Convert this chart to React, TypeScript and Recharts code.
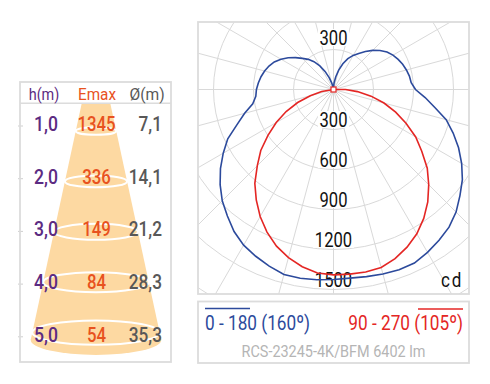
import React from 'react'
import { RadarChart, Radar, PolarGrid, PolarAngleAxis, PolarRadiusAxis } from 'recharts'

// photometric data, gamma measured from nadir, half plane (symmetric)
const GAMMA = [0, 5, 10, 15, 20, 25, 30, 35, 40, 45, 50, 55, 60, 65, 70, 75, 80, 85, 90, 95, 100, 105, 110, 115, 120, 125, 130, 135, 140, 145, 150, 155, 160, 165, 170, 175, 180]
const C0_180 = [1420, 1425, 1432, 1438, 1436, 1410, 1380, 1348, 1300, 1238, 1180, 1110, 1035, 955, 875, 770, 690, 615, 585, 578, 566, 552, 535, 515, 490, 455, 415, 372, 330, 295, 255, 205, 150, 95, 50, 15, 0]
const C90_270 = [1390, 1390, 1382, 1350, 1305, 1250, 1180, 1100, 1010, 918, 808, 712, 600, 496, 392, 286, 180, 90, 0, 0, 0, 0, 0, 0, 0, 0, 0, 0, 0, 0, 0, 0, 0, 0, 0, 0, 0]

const RADIUS_TICKS = [0, 300, 600, 900, 1200, 1500, 1800, 2100]
const SPOKES = [0, 15, 30, 45, 60, 75, 90, 105, 120, 135, 150, 165, 180, 195, 210, 225, 240, 255, 270, 285, 300, 315, 330, 345]

// table
const HEIGHTS = ['1,0', '2,0', '3,0', '4,0', '5,0']
const EMAX = ['1345', '336', '149', '84', '54']
const DIAM = ['7,1', '14,1', '21,2', '28,3', '35,3']

const LEGEND_C0 = '0 - 180 (160º)'
const LEGEND_C90 = '90 - 270 (105º)'
const LUMINAIRE = 'RCS-23245-4K/BFM 6402 lm'

const BLUE = '#2c4a9c'
const RED = '#e42624'
const PURPLE = '#5c2b82'
const ORANGE = '#e8521e'
const GRAYTXT = '#585858'
const BORDER = '#dcdcdc'
const GRID = '#d9d9d9'

const CX = 135.5
const CY = 67.5

// full circle: 0..180 on one side, mirrored back on the other
const data = [
  ...GAMMA.map((g, i) => ({ angle: g, c0: C0_180[i], c90: C90_270[i] })),
  ...GAMMA.slice(1, -1)
    .map((g, i) => ({ angle: 360 - g, c0: C0_180[i + 1], c90: C90_270[i + 1] }))
    .reverse(),
]

const FONT = 'Roboto, "Liberation Sans", sans-serif'

function CText({ x, y, size, sx, fill, anchor, children, spacing, weight }: any) {
  return (
    <text
      transform={`translate(${x} ${y}) scale(${sx} 1)`}
      textAnchor={anchor}
      fontSize={size}
      fontFamily={FONT}
      fontWeight={weight}
      fill={fill}
      letterSpacing={spacing}
    >
      {children}
    </text>
  )
}

function RadiusTick(props: any) {
  const { x, y, payload } = props
  const v = payload?.value
  if (!v || v > 1500) return <g />
  const label = String(v)
  const w = label.length * 9.4 + 3
  const spots = [y - 2.5]
  if (v === 300) spots.push(2 * CY - y - 4.5)
  return (
    <g>
      {spots.map((yy, i) => (
        <g key={i}>
          <rect x={x - w / 2} y={yy - 16} width={w} height={17} fill="#fff" />
          <CText x={x} y={yy} size={21} sx={0.79} fill="#111" anchor="middle">
            {label}
          </CText>
        </g>
      ))}
    </g>
  )
}

function CenterDot(props: any) {
  const row = props.payload?.payload ?? props.payload
  if (!row || row.angle !== 90) return <g />
  return <rect x={props.cx - 2.5} y={props.cy - 2.5} width={5} height={5} fill="#fff" stroke={RED} strokeWidth={1.2} />
}

// cone drawing helpers (decorative)
const coneHalf = (y: number) => 14.2 + (y - 103) * 0.2155

export default function App() {
  return (
    <div style={{ position: 'absolute', left: 0, top: 0, width: 490, height: 384, background: '#fff' }}>
      <div style={{ position: 'absolute', left: 198, top: 22, width: 271, height: 272, overflow: 'hidden' }}>
        <RadarChart
          width={271}
          height={272}
          data={data}
          cx={CX}
          cy={CY}
          innerRadius={0}
          outerRadius={280}
          startAngle={-90}
          endAngle={270}
          margin={{ top: 0, right: 0, bottom: 0, left: 0 }}
        >
          <PolarGrid gridType="circle" polarAngles={SPOKES} stroke={GRID} strokeWidth={1} />
          <PolarAngleAxis dataKey="angle" tick={false} axisLine={false} tickLine={false} />
          <PolarRadiusAxis
            angle={-90}
            type="number"
            domain={[0, 2100]}
            ticks={RADIUS_TICKS as any}
            tickCount={RADIUS_TICKS.length}
            axisLine={false}
            tickLine={false}
            tick={RadiusTick}
            {...({ zIndex: 50 } as any)}
          />
          <Radar dataKey="c0" stroke={BLUE} strokeWidth={1.6} fill="none" fillOpacity={0} dot={false} isAnimationActive={false} />
          <Radar dataKey="c90" stroke={RED} strokeWidth={1.6} fill="none" fillOpacity={0} dot={CenterDot} isAnimationActive={false} />
        </RadarChart>
      </div>

      <svg width={490} height={384} style={{ position: 'absolute', left: 0, top: 0, pointerEvents: 'none' }}>
        {/* chart frame + cd */}
        <rect x={198} y={22} width={271} height={272} fill="none" stroke={BORDER} strokeWidth={1.8} />
        <CText x={463} y={287} size={20} sx={0.85} fill="#111" anchor="end" spacing={2}>cd</CText>

        {/* legend box */}
        <rect x={198} y={301.5} width={271} height={61.5} fill="none" stroke={BORDER} strokeWidth={1.8} />
        <line x1={205} x2={250} y1={308.5} y2={308.5} stroke={BLUE} strokeWidth={1.5} />
        <CText x={205} y={330} size={21} sx={0.82} fill={BLUE} anchor="start">{LEGEND_C0}</CText>
        <line x1={418} x2={463} y1={309} y2={309} stroke={RED} strokeWidth={1.5} />
        <CText x={463} y={330} size={21} sx={0.82} fill={RED} anchor="end">{LEGEND_C90}</CText>
        <CText x={333.5} y={357} size={17} sx={0.85} fill="#b5b5b5" anchor="middle">{LUMINAIRE}</CText>

        {/* table */}
        <polygon
          points={`${96 - coneHalf(103)},103 ${96 + coneHalf(103)},103 ${96 + coneHalf(340)},340 ${96 - coneHalf(340)},340`}
          fill="#fdd9a2"
        />
        <ellipse cx={96} cy={340} rx={coneHalf(340)} ry={15} fill="#fdd9a2" />
        {HEIGHTS.map((h, i) => {
          const ey = 131 + i * 50.4
          const base = 131 + i * 52.7
          const rx = coneHalf(ey)
          return (
            <g key={h}>
              <ellipse cx={96} cy={ey} rx={rx} ry={rx * 0.19} fill="none" stroke="#fff" strokeWidth={2} />
              <line x1={18} x2={23} y1={base - 5} y2={base - 5} stroke="#cfcfcf" strokeWidth={1} />
              <CText x={34} y={base} size={21} sx={0.84} fill={PURPLE} anchor="start" weight={500}>{h}</CText>
              <CText x={96.5} y={base} size={21} sx={0.8} fill={ORANGE} anchor="middle" weight={500}>{EMAX[i]}</CText>
              <CText x={162} y={base} size={21} sx={0.82} fill={GRAYTXT} anchor="end" weight={500}>{DIAM[i]}</CText>
            </g>
          )
        })}
        <rect x={20} y={82} width={151} height={280} fill="none" stroke={BORDER} strokeWidth={1.8} />
        <line x1={20} x2={171} y1={103.3} y2={103.3} stroke={BORDER} strokeWidth={1.5} />
        <CText x={44} y={99.5} size={17} sx={0.85} fill={PURPLE} anchor="middle">h(m)</CText>
        <CText x={97} y={99.5} size={17} sx={0.9} fill={ORANGE} anchor="middle">Emax</CText>
        <CText x={147} y={99.5} size={17} sx={0.92} fill={GRAYTXT} anchor="middle">Ø(m)</CText>
      </svg>
    </div>
  )
}
